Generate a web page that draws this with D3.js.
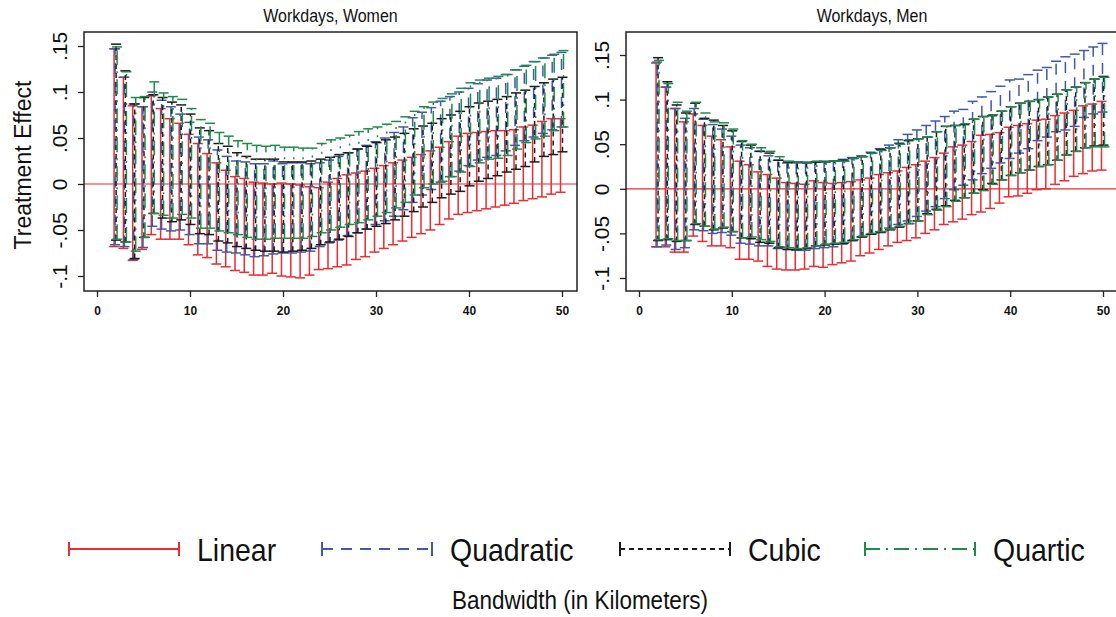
<!DOCTYPE html>
<html>
<head>
<meta charset="utf-8">
<script src="https://cdn.jsdelivr.net/npm/d3@7"></script>
<style>
  body { margin: 0; background: #fff; }
  text { font-family: "Liberation Sans", Arial, Helvetica, sans-serif; fill: #111; }
</style>
</head>
<body>
<div id="chart"></div>
<script>
// bandwidths (km) on the x axis
var bandwidths = [2,3,4,5,6,7,8,9,10,11,12,13,14,15,16,17,18,19,20,21,22,23,24,25,26,
  27,28,29,30,31,32,33,34,35,36,37,38,39,40,41,42,43,44,45,46,47,48,49,50];

var seriesNames = ["Linear", "Quadratic", "Cubic", "Quartic"];
var panelTitles = ["Workdays, Women", "Workdays, Men"];
var xTicks = [0, 10, 20, 30, 40, 50];
var yTicks = [-0.1, -0.05, 0, 0.05, 0.1, 0.15];
var yTickLabels = ["-.1", "-.05", "0", ".05", ".1", ".15"];
var yLabel = "Treatment Effect";
var xLabel = "Bandwidth (in Kilometers)";

// Women: confidence interval bounds, bandwidth 2..50
var womenLinearHi = [.147,.116,.085,.084,.096,.082,.071,.066,.054,.044,.033,.023,.015,.008,.006,.002,.001,.000,.001,
  .000,-.001,-.003,-.004,.002,.006,.010,.012,.014,.017,
  .020,.023,.026,.029,.032,.036,.040,.046,.052,.055,
  .056,.057,.058,.058,.059,.062,.064,.068,.071,.071];
var womenLinearLo = [-.068,-.070,-.083,-.071,-.055,-.060,-.060,-.060,-.066,-.077,-.080,-.087,-.090,-.094,-.096,-.099,-.099,-.097,-.100,
  -.101,-.102,-.099,-.093,-.092,-.090,-.088,-.082,-.079,-.074,
  -.070,-.066,-.062,-.058,-.054,-.050,-.044,-.038,-.033,-.031,
  -.029,-.027,-.025,-.023,-.021,-.018,-.016,-.014,-.011,-.009];
var womenQuadHi = [.147,.116,.087,.084,.100,.091,.084,.076,.067,.051,.048,.037,.030,.025,.024,.022,.022,.025,.022,
  .023,.023,.022,.023,.026,.030,.034,.038,.042,.046,
  .050,.056,.062,.072,.078,.083,.090,.095,.100,.104,
  .109,.113,.115,.119,.124,.128,.133,.137,.140,.143];
var womenQuadLo = [-.066,-.068,-.082,-.069,-.046,-.049,-.051,-.050,-.055,-.065,-.065,-.072,-.074,-.075,-.077,-.079,-.078,-.076,-.075,
  -.075,-.074,-.073,-.068,-.064,-.061,-.056,-.053,-.049,-.044,
  -.040,-.035,-.028,-.020,-.012,-.006,.002,.008,.014,.020,
  .026,.029,.031,.036,.042,.047,.051,.055,.059,.062];
var womenCubicHi = [.152,.123,.087,.094,.097,.094,.089,.086,.076,.061,.058,.044,.041,.034,.030,.027,.027,.027,.024,
  .024,.024,.025,.027,.029,.032,.034,.038,.041,.045,
  .048,.051,.055,.060,.063,.066,.071,.075,.079,.084,
  .088,.090,.092,.095,.099,.102,.106,.110,.114,.116];
var womenCubicLo = [-.061,-.063,-.081,-.058,-.032,-.037,-.041,-.039,-.044,-.054,-.055,-.062,-.064,-.068,-.070,-.072,-.073,-.073,-.074,
  -.073,-.072,-.070,-.066,-.063,-.060,-.057,-.053,-.049,-.046,
  -.043,-.039,-.035,-.030,-.025,-.020,-.015,-.011,-.008,-.002,
  .003,.006,.009,.013,.016,.019,.024,.030,.032,.035];
var womenQuarticHi = [.149,.122,.094,.095,.111,.099,.095,.092,.082,.070,.066,.056,.052,.047,.044,.042,.041,.042,.040,
  .040,.039,.039,.044,.048,.050,.053,.057,.060,.062,
  .065,.068,.073,.079,.084,.089,.093,.098,.104,.110,
  .113,.115,.117,.119,.124,.129,.133,.137,.141,.145];
var womenQuarticLo = [-.060,-.063,-.073,-.058,-.032,-.034,-.037,-.033,-.037,-.048,-.048,-.051,-.053,-.055,-.058,-.060,-.060,-.059,-.059,
  -.059,-.059,-.057,-.053,-.050,-.047,-.044,-.042,-.039,-.035,
  -.031,-.026,-.020,-.012,-.004,.000,.003,.008,.013,.019,
  .023,.027,.028,.031,.038,.045,.049,.052,.058,.062];

// Men
var menLinearHi = [.141,.114,.090,.075,.084,.071,.059,.055,.047,.031,.027,.019,.016,.012,.007,.006,.005,.009,.007,
  .006,.007,.008,.010,.012,.016,.018,.020,.024,.027,
  .031,.035,.040,.047,.049,.053,.060,.061,.063,.069,
  .071,.073,.077,.078,.082,.085,.088,.093,.095,.098];
var menLinearLo = [-.065,-.065,-.071,-.071,-.053,-.059,-.064,-.064,-.066,-.079,-.079,-.081,-.087,-.090,-.091,-.091,-.090,-.087,-.088,
  -.085,-.083,-.081,-.075,-.072,-.068,-.064,-.060,-.058,-.055,
  -.050,-.046,-.040,-.037,-.034,-.029,-.026,-.022,-.016,-.009,
  -.008,-.005,-.001,.000,.005,.009,.014,.017,.020,.021];
var menQuadHi = [.142,.114,.090,.079,.090,.078,.072,.067,.059,.049,.046,.042,.037,.032,.029,.029,.030,.030,.031,
  .031,.033,.035,.037,.041,.045,.049,.055,.061,.066,
  .071,.076,.081,.087,.089,.098,.103,.109,.115,.122,
  .123,.128,.133,.136,.143,.148,.151,.155,.159,.163];
var menQuadLo = [-.065,-.063,-.068,-.066,-.046,-.047,-.050,-.049,-.052,-.061,-.062,-.064,-.064,-.067,-.068,-.069,-.069,-.067,-.066,
  -.065,-.062,-.058,-.054,-.051,-.048,-.044,-.040,-.036,-.031,
  -.025,-.020,-.011,-.001,.004,.010,.017,.023,.029,.034,
  .040,.045,.054,.058,.064,.066,.070,.080,.084,.086];
var menCubicHi = [.147,.120,.094,.085,.096,.079,.077,.071,.065,.053,.049,.042,.040,.032,.030,.030,.029,.030,.030,
  .031,.032,.034,.036,.040,.044,.046,.051,.054,.056,
  .058,.064,.070,.071,.072,.078,.081,.082,.087,.092,
  .096,.098,.100,.103,.106,.111,.114,.119,.123,.126];
var menCubicLo = [-.058,-.057,-.059,-.058,-.040,-.042,-.046,-.044,-.048,-.055,-.056,-.060,-.061,-.066,-.068,-.068,-.067,-.064,-.063,
  -.062,-.061,-.058,-.054,-.051,-.049,-.046,-.043,-.039,-.036,
  -.028,-.023,-.019,-.013,-.010,-.005,-.001,.006,.010,.015,
  .018,.021,.025,.027,.032,.038,.042,.046,.048,.049];
var menQuarticHi = [.144,.118,.097,.087,.097,.085,.075,.074,.067,.054,.050,.046,.042,.036,.031,.030,.029,.031,.030,
  .031,.031,.034,.036,.040,.043,.046,.050,.055,.056,
  .058,.064,.070,.071,.073,.078,.081,.083,.087,.092,
  .096,.098,.100,.103,.106,.111,.114,.119,.123,.125];
var menQuarticLo = [-.057,-.056,-.058,-.058,-.039,-.042,-.045,-.043,-.048,-.055,-.054,-.057,-.059,-.065,-.066,-.067,-.066,-.064,-.062,
  -.061,-.060,-.057,-.053,-.050,-.048,-.045,-.042,-.039,-.036,
  -.029,-.024,-.020,-.014,-.010,-.005,-.002,.005,.010,.015,
  .018,.021,.025,.027,.032,.038,.042,.046,.047,.047];

// styles
var colors = ["#ec2a30", "#4059a9", "#1b1b1b", "#1e8b4d"];
var dashes = [null, "11,8", "5,4", "15,6,2,6"];
var offsets = [-1.5, -0.5, 0.5, 1.5];   // px, so the four bars sit side by side

var w = 1116, h = 617;
var svg = d3.select("#chart").append("svg").attr("width", w).attr("height", h);

// horizontal text is a bit taller than Arial in the reference
function hText(g, x, y, str, size, anchor, weight) {
  return g.append("text")
    .attr("transform", "translate(" + x + "," + y + ") scale(1,1.12)")
    .attr("text-anchor", anchor)
    .style("font-size", size + "px")
    .style("font-weight", weight || "normal")
    .text(str);
}

var panels = [
  { title: panelTitles[0], left: 84, right: 577, top: 32, bottom: 291,
    xRange: [97, 562], yRange: [276, 46],
    lo: [womenLinearLo, womenQuadLo, womenCubicLo, womenQuarticLo],
    hi: [womenLinearHi, womenQuadHi, womenCubicHi, womenQuarticHi] },
  { title: panelTitles[1], left: 626, right: 1118, top: 32, bottom: 291,
    xRange: [639, 1103], yRange: [278, 55],
    lo: [menLinearLo, menQuadLo, menCubicLo, menQuarticLo],
    hi: [menLinearHi, menQuadHi, menCubicHi, menQuarticHi] }
];

panels.forEach(function(p) {
  var g = svg.append("g");
  var x = d3.scaleLinear().domain([0, 50]).range(p.xRange);
  var y = d3.scaleLinear().domain([-0.1, 0.15]).range(p.yRange);

  // title
  hText(g, (p.left + Math.min(p.right, w + 2)) / 2 , 22, p.title, 16, "middle");

  // zero line
  g.append("line")
    .attr("x1", p.left).attr("x2", p.right)
    .attr("y1", y(0)).attr("y2", y(0))
    .attr("stroke", colors[0]).attr("stroke-width", 1.2);

  // range caps, one layer per series
  seriesNames.forEach(function(name, s) {
    var rows = bandwidths.map(function(b, i) {
      return { b: b, lo: p.lo[s][i], hi: p.hi[s][i] };
    });
    var sg = g.append("g")
      .attr("stroke", colors[s])
      .attr("stroke-width", 1.5)
      .attr("fill", "none");

    sg.selectAll("line.bar")
      .data(rows)
      .enter()
      .append("line")
      .attr("class", "bar")
      .attr("x1", function(d) { return x(d.b) + offsets[s]; })
      .attr("x2", function(d) { return x(d.b) + offsets[s]; })
      .attr("y1", function(d) { return y(d.lo); })
      .attr("y2", function(d) { return y(d.hi); })
      .attr("stroke-dasharray", dashes[s]);

    ["lo", "hi"].forEach(function(k) {
      sg.selectAll("line.cap-" + k)
        .data(rows)
        .enter()
        .append("line")
        .attr("class", "cap-" + k)
        .attr("x1", function(d) { return x(d.b) + offsets[s] - 5; })
        .attr("x2", function(d) { return x(d.b) + offsets[s] + 5; })
        .attr("y1", function(d) { return y(d[k]); })
        .attr("y2", function(d) { return y(d[k]); });
    });
  });

  // frame
  g.append("rect")
    .attr("x", p.left).attr("y", p.top)
    .attr("width", p.right - p.left).attr("height", p.bottom - p.top)
    .attr("fill", "none").attr("stroke", "#222").attr("stroke-width", 1.5);

  // x axis
  var xAxis = g.append("g")
    .attr("transform", "translate(0," + p.bottom + ")")
    .call(d3.axisBottom(x).tickValues(xTicks).tickSize(6).tickFormat(d3.format("d")));
  xAxis.select(".domain").remove();
  xAxis.selectAll("line").attr("stroke", "#222").attr("stroke-width", 1.3);
  xAxis.selectAll("text")
    .attr("y", null).attr("dy", null)
    .attr("transform", "translate(0,24) scale(1,1.12)")
    .style("font-size", "12px").style("font-weight", "bold")
    .attr("fill", "#222");

  // y axis
  var yAxis = g.append("g")
    .attr("transform", "translate(" + p.left + ",0)")
    .call(d3.axisLeft(y).tickValues(yTicks).tickSize(6)
      .tickFormat(function(d, i) { return yTickLabels[i]; }));
  yAxis.select(".domain").remove();
  yAxis.selectAll("line").attr("stroke", "#222").attr("stroke-width", 1.3);
  yAxis.selectAll("text")
    .attr("x", null).attr("dy", null)
    .attr("transform", "translate(-17,0) rotate(-90)")
    .attr("text-anchor", "middle")
    .style("font-size", "21px")
    .attr("fill", "#222");
});

// y label
svg.append("text")
  .attr("transform", "translate(31,165) rotate(-90)")
  .attr("text-anchor", "middle")
  .style("font-size", "23px")
  .text(yLabel);

// legend
var legendX = [69, 322, 620, 865];
var legend = svg.append("g");
seriesNames.forEach(function(name, s) {
  var x0 = legendX[s], x1 = legendX[s] + 110, ly = 549;
  var lg = legend.append("g").attr("stroke", colors[s]).attr("stroke-width", 2);
  lg.append("line").attr("x1", x0).attr("x2", x1).attr("y1", ly).attr("y2", ly)
    .attr("stroke-dasharray", dashes[s]);
  lg.append("line").attr("x1", x0).attr("x2", x0).attr("y1", ly - 7).attr("y2", ly + 7);
  lg.append("line").attr("x1", x1).attr("x2", x1).attr("y1", ly - 7).attr("y2", ly + 7);
  hText(legend, x1 + 18, 561, name, 28.5, "start");
});

// x label
hText(svg, 580, 609, xLabel, 22.5, "middle");
</script>
</body>
</html>
